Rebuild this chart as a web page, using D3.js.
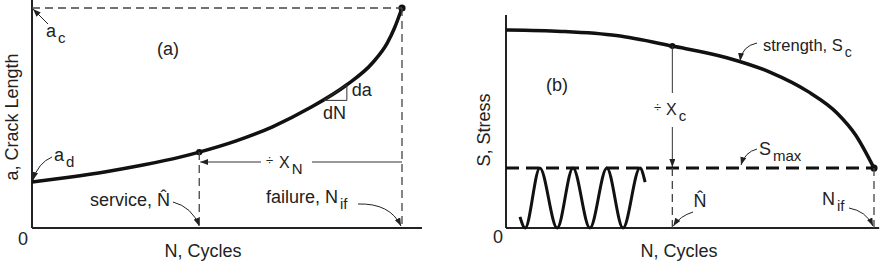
<!DOCTYPE html>
<html>
<head>
<meta charset="utf-8">
<script src="https://cdn.jsdelivr.net/npm/d3@7"></script>
<style>
  body { margin: 0; background: #fff; }
  svg text { font-family: "Liberation Sans", Arial, sans-serif; fill: #222; }
</style>
</head>
<body>
<div id="chart"></div>
<script>
// crack growth curve, panel (a): normalised cycles vs normalised crack length
var crackN = [0, 0.1, 0.2, 0.3, 0.4, 0.452, 0.55, 0.65, 0.75, 0.85, 0.92, 0.96, 0.98, 1];
var crackA = [0.209, 0.231, 0.256, 0.286, 0.322, 0.345, 0.395, 0.46, 0.545, 0.65, 0.75, 0.84, 0.91, 1];

// residual strength curve, panel (b)
var strengthN = [0, 0.15, 0.3, 0.452, 0.6, 0.72, 0.82, 0.9, 0.95, 1];
var strengthS = [1, 0.993, 0.972, 0.919, 0.86, 0.785, 0.69, 0.58, 0.47, 0.303];

// cyclic load, peaks and valleys
var waveN = [0.038, 0.052, 0.092, 0.139, 0.182, 0.228, 0.274, 0.318, 0.364, 0.378];
var waveS = [0.056, 0, 0.303, 0, 0.303, 0, 0.303, 0, 0.303, 0.232];

var nHat = 0.452;   // service life
var nFail = 1;      // failure
var sMax = 0.303;   // max applied stress
var aCrit = 1;      // critical crack size

var width = 881, height = 270;

var svg = d3.select("#chart").append("svg")
    .attr("width", width)
    .attr("height", height);

var defs = svg.append("defs");
defs.append("marker")
    .attr("id", "arr")
    .attr("viewBox", "0 0 8 6")
    .attr("refX", 8).attr("refY", 3)
    .attr("markerWidth", 8).attr("markerHeight", 6)
    .attr("markerUnits", "userSpaceOnUse")
    .attr("orient", "auto")
    .append("path").attr("d", "M0,0 L8,3 L0,6 z").attr("fill", "#222");

// scales
var xA = d3.scaleLinear().domain([0, 1]).range([32, 402]);
var yA = d3.scaleLinear().domain([0, 1]).range([228, 8]);
var xB = d3.scaleLinear().domain([0, 1]).range([506, 874]);
var yB = d3.scaleLinear().domain([0, 1]).range([228, 30]);

function label(x, y, main, sub, size, subSize, anchor) {
    var t = svg.append("text")
        .attr("x", x).attr("y", y)
        .attr("font-size", size)
        .attr("text-anchor", anchor || "start");
    t.append("tspan").text(main);
    if (sub) {
        t.append("tspan").attr("dx", 2).attr("dy", 6)
            .attr("font-size", subSize).text(sub);
    }
    return t;
}

function curvedArrow(x0, y0, cx, cy, x1, y1) {
    svg.append("path")
        .attr("d", "M" + x0 + "," + y0 + " Q" + cx + "," + cy + " " + x1 + "," + y1)
        .attr("fill", "none").attr("stroke", "#222").attr("stroke-width", 1)
        .attr("marker-end", "url(#arr)");
}

function dashed(x0, y0, x1, y1) {
    svg.append("line")
        .attr("x1", x0).attr("y1", y0).attr("x2", x1).attr("y2", y1)
        .attr("stroke", "#444").attr("stroke-width", 1.3)
        .attr("stroke-dasharray", "8,5");
}

/* ---------- panel (a) ---------- */
var ga = svg.append("g");

dashed(xA(0), yA(aCrit), xA(nFail), yA(aCrit));
dashed(xA(nFail), yA(aCrit), xA(nFail), yA(0));
dashed(xA(nHat), yA(0.345), xA(nHat), yA(0));

// axes
ga.append("line").attr("x1", xA(0)).attr("y1", 0).attr("x2", xA(0)).attr("y2", yA(0))
    .attr("stroke", "#222").attr("stroke-width", 2);
ga.append("line").attr("x1", xA(0)).attr("y1", yA(0)).attr("x2", xA(1.054)).attr("y2", yA(0))
    .attr("stroke", "#222").attr("stroke-width", 2);

var crackLine = d3.line()
    .x(function(d, i) { return xA(crackN[i]); })
    .y(function(d, i) { return yA(crackA[i]); })
    .curve(d3.curveMonotoneX);

ga.append("path").datum(crackN)
    .attr("d", crackLine)
    .attr("fill", "none").attr("stroke", "#111").attr("stroke-width", 3.5);

ga.append("circle").attr("cx", xA(nHat)).attr("cy", yA(0.345)).attr("r", 3.2).attr("fill", "#111");
ga.append("circle").attr("cx", xA(nFail)).attr("cy", yA(aCrit)).attr("r", 3.6).attr("fill", "#111");

// da/dN triangle
var tri = [[0.789, 0.58], [0.851, 0.58], [0.851, 0.652]];
ga.append("path")
    .attr("d", "M" + tri.map(function(p) { return xA(p[0]) + "," + yA(p[1]); }).join(" L") + " Z")
    .attr("fill", "none").attr("stroke", "#333").attr("stroke-width", 1);
label(xA(0.851) + 5, yA(0.58) - 4, "da", null, 18);
label(xA(0.789) - 1, yA(0.58) + 19, "dN", null, 18);

// ÷X_N arrow
ga.append("line").attr("x1", xA(nFail)).attr("y1", 162).attr("x2", 312).attr("y2", 162)
    .attr("stroke", "#333").attr("stroke-width", 1);
ga.append("line").attr("x1", 261).attr("y1", 162).attr("x2", xA(nHat) + 1).attr("y2", 162)
    .attr("stroke", "#333").attr("stroke-width", 1).attr("marker-end", "url(#arr)");
label(266, 165, "÷", null, 13);
label(279, 168, "X", "N", 16, 15);

// labels
label(46, 37, "a", "c", 18, 15);
svg.append("line").attr("x1", 48).attr("y1", 24).attr("x2", xA(0) + 1).attr("y2", yA(aCrit) + 1)
    .attr("stroke", "#222").attr("stroke-width", 1).attr("marker-end", "url(#arr)");
label(168, 55, "(a)", null, 18, null, "middle");
label(54, 161, "a", "d", 18, 15);
curvedArrow(52, 157, 38, 163, xA(0) + 1, yA(0.209) - 2);

label(170, 206, "service, N\u0302", null, 18, null, "end");
curvedArrow(173, 202, 192, 207, xA(nHat), yA(0) - 2);

label(266, 203, "failure, N", "if", 18, 15);
curvedArrow(358, 204, 390, 203, xA(nFail) - 1, yA(0) - 2);

label(23, 245, "0", null, 18, null, "middle");
label(203, 257, "N, Cycles", null, 18, null, "middle");
svg.append("text").attr("transform", "translate(18,117) rotate(-90)")
    .attr("text-anchor", "middle").attr("font-size", 18).text("a, Crack Length");

/* ---------- panel (b) ---------- */
var gb = svg.append("g");

dashed(xB(nHat), yB(sMax), xB(nHat), yB(0));
dashed(xB(nFail), yB(sMax), xB(nFail), yB(0));

gb.append("line").attr("x1", xB(0)).attr("y1", yB(1.076)).attr("x2", xB(0)).attr("y2", yB(0))
    .attr("stroke", "#222").attr("stroke-width", 2);
gb.append("line").attr("x1", xB(0)).attr("y1", yB(0)).attr("x2", xB(1.014)).attr("y2", yB(0))
    .attr("stroke", "#222").attr("stroke-width", 2);

// S_max dashed line
gb.append("line").attr("x1", xB(0)).attr("y1", yB(sMax)).attr("x2", xB(nFail)).attr("y2", yB(sMax))
    .attr("stroke", "#111").attr("stroke-width", 3).attr("stroke-dasharray", "13,7");

var strengthLine = d3.line()
    .x(function(d, i) { return xB(strengthN[i]); })
    .y(function(d, i) { return yB(strengthS[i]); })
    .curve(d3.curveMonotoneX);
gb.append("path").datum(strengthN)
    .attr("d", strengthLine)
    .attr("fill", "none").attr("stroke", "#111").attr("stroke-width", 3.5);

var waveLine = d3.line()
    .x(function(d, i) { return xB(waveN[i]); })
    .y(function(d, i) { return yB(waveS[i]); })
    .curve(d3.curveMonotoneX);
gb.append("path").datum(waveN)
    .attr("d", waveLine)
    .attr("fill", "none").attr("stroke", "#111").attr("stroke-width", 3);

gb.append("circle").attr("cx", xB(nHat)).attr("cy", yB(0.919)).attr("r", 3).attr("fill", "#111");
gb.append("circle").attr("cx", xB(nFail)).attr("cy", yB(sMax)).attr("r", 3.6).attr("fill", "#111");

// ÷X_c arrow
gb.append("line").attr("x1", xB(nHat)).attr("y1", yB(0.919)).attr("x2", xB(nHat)).attr("y2", 93)
    .attr("stroke", "#333").attr("stroke-width", 1);
gb.append("line").attr("x1", xB(nHat)).attr("y1", 127).attr("x2", xB(nHat)).attr("y2", yB(sMax) - 1)
    .attr("stroke", "#333").attr("stroke-width", 1).attr("marker-end", "url(#arr)");
label(654, 112, "÷", null, 13);
label(666, 115, "X", "c", 16, 15);

label(557, 91, "(b)", null, 18, null, "middle");
label(763, 51, "strength, S", "c", 16.5, 14);
curvedArrow(757, 43, 742, 46, xB(0.636), yB(0.838) - 1);

label(759, 155, "S", "max", 18, 15);
curvedArrow(757, 149, 745, 152, 741, 165);

label(700, 207, "N\u0302", null, 18, null, "middle");
curvedArrow(693, 212, 680, 216, xB(nHat) + 1, yB(0) - 2);

label(822, 205, "N", "if", 18, 15);
curvedArrow(849, 208, 866, 211, xB(nFail) - 1, yB(0) - 2);

label(498, 243, "0", null, 18, null, "middle");
label(679, 257, "N, Cycles", null, 18, null, "middle");
svg.append("text").attr("transform", "translate(490,130) rotate(-90)")
    .attr("text-anchor", "middle").attr("font-size", 18).text("S, Stress");
</script>
</body>
</html>
